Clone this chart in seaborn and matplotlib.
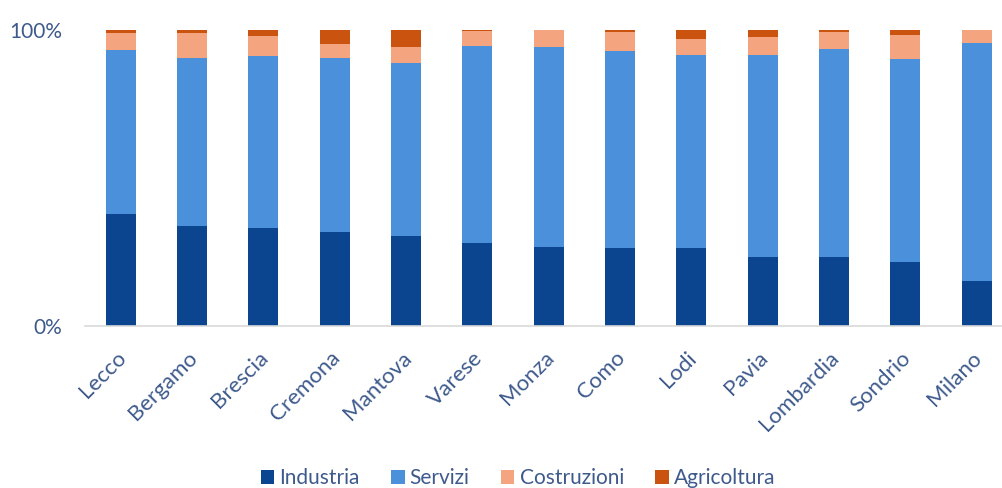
import numpy as np
import pandas as pd
import matplotlib
matplotlib.use("Agg")
import matplotlib.pyplot as plt
from matplotlib.patches import Patch
from matplotlib.transforms import ScaledTranslation
import seaborn as sns

provinces = ["Lecco", "Bergamo", "Brescia", "Cremona", "Mantova", "Varese", "Monza",
             "Como", "Lodi", "Pavia", "Lombardia", "Sondrio", "Milano"]
industria = [37.6, 33.7, 33.1, 31.6, 30.4, 28.0, 26.5, 26.1, 26.1, 23.1, 23.1, 21.4, 15.2]
servizi = [55.6, 56.9, 58.1, 59.0, 58.5, 66.7, 67.6, 66.8, 65.5, 68.5, 70.6, 68.8, 80.5]
costruzioni = [5.9, 8.3, 6.8, 4.6, 5.5, 4.9, 5.8, 6.3, 5.4, 5.9, 5.5, 8.1, 4.2]
agricoltura = [0.9, 1.1, 2.0, 4.8, 5.6, 0.4, 0.1, 0.8, 3.0, 2.5, 0.8, 1.7, 0.1]

sectors = ["Industria", "Servizi", "Costruzioni", "Agricoltura"]
colors = ["#0B4590", "#4A90DA", "#F4A47E", "#C9530F"]
text_color = "#3E5A8C"

sns.set_theme(style="white")
plt.rcParams["font.family"] = ["Lato", "DejaVu Sans"]

df = pd.DataFrame({"Provincia": provinces, "Industria": industria, "Servizi": servizi,
                   "Costruzioni": costruzioni, "Agricoltura": agricoltura})
total = df[sectors].sum(axis=1)
for s in sectors:
    df[s] = df[s] / total * 100
cum = df[sectors].cumsum(axis=1)

fig = plt.figure(figsize=(10.03, 4.88), dpi=100)
ax = fig.add_axes([85 / 1003, (488 - 325.5) / 488, 918 / 1003, 295.5 / 488])

# stacked bars: draw cumulative totals from the top layer down
for s, c in reversed(list(zip(sectors, colors))):
    sns.barplot(x=df["Provincia"], y=cum[s], color=c, width=0.42, linewidth=0,
                saturation=1, ax=ax)

ax.set_xlim(-0.5, 12.37)
ax.set_ylim(0, 100)
ax.set_yticks([0, 100])
ax.set_yticklabels(["0%", "100%"], color=text_color, fontsize=15)
ax.set_xlabel("")
ax.set_ylabel("")
ax.tick_params(axis="x", pad=16, length=0)
ax.tick_params(axis="y", pad=16.5, length=0)
shift = ScaledTranslation(-0.05, 0, fig.dpi_scale_trans)
for lbl in ax.get_xticklabels():
    lbl.set_rotation(45)
    lbl.set_ha("right")
    lbl.set_rotation_mode("anchor")
    lbl.set_color(text_color)
    lbl.set_fontsize(16)
    lbl.set_transform(lbl.get_transform() + shift)

for side in ["top", "right", "left"]:
    ax.spines[side].set_visible(False)
ax.spines["bottom"].set_color("#D9D9D9")
ax.spines["bottom"].set_linewidth(1.2)

handles = [Patch(facecolor=c, edgecolor="none", label=s) for s, c in zip(sectors, colors)]
fig.legend(handles=handles, loc="center", bbox_to_anchor=(518 / 1003, 1 - 478 / 488),
           ncol=4, frameon=False, fontsize=15, labelcolor=text_color,
           handlelength=0.65, handleheight=0.65, handletextpad=0.25, columnspacing=1.5)

fig.savefig("out.png", dpi=100)
